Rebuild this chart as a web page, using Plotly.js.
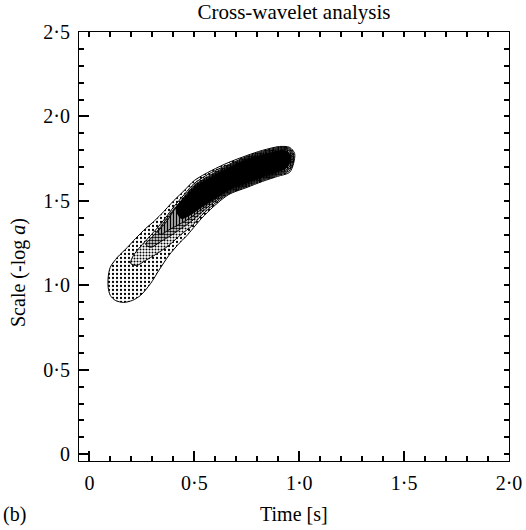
<!DOCTYPE html>
<html>
<head>
<meta charset="utf-8">
<script src="https://cdn.plot.ly/plotly-3.0.1.min.js"></script>
<style>html,body{margin:0;padding:0;background:#fff;}</style>
</head>
<body>
<div id="chart" style="width:526px;height:530px;"></div>
<script>
// Contour outlines (time [s], scale -log a), outermost first
const c1x = [0.089,0.089,0.099,0.133,0.181,0.220,0.268,0.302,0.341,0.403,0.452,0.500,0.582,0.664,0.751,0.824,0.906,0.954,0.978,0.973,0.954,0.896,0.824,0.751,0.664,0.592,0.534,0.461,0.428,0.379,0.331,0.292,0.244,0.205,0.162,0.123,0.099,0.089];
const c1y = [0.988,1.047,1.107,1.166,1.225,1.278,1.337,1.373,1.420,1.503,1.562,1.621,1.680,1.728,1.769,1.799,1.822,1.817,1.781,1.722,1.669,1.645,1.615,1.580,1.538,1.467,1.396,1.290,1.249,1.178,1.089,1.012,0.941,0.911,0.899,0.911,0.941,0.988];

const c2x = [0.196,0.210,0.244,0.283,0.321,0.360,0.403,0.452,0.500,0.582,0.664,0.751,0.824,0.906,0.954,0.973,0.969,0.949,0.896,0.824,0.751,0.664,0.592,0.534,0.486,0.437,0.379,0.316,0.268,0.225,0.196];
const c2y = [1.130,1.178,1.231,1.284,1.337,1.396,1.467,1.538,1.604,1.669,1.716,1.763,1.793,1.817,1.811,1.775,1.716,1.675,1.651,1.621,1.586,1.544,1.479,1.414,1.349,1.302,1.237,1.183,1.148,1.118,1.130];

const c3x = [0.268,0.302,0.341,0.379,0.418,0.461,0.500,0.582,0.664,0.751,0.824,0.906,0.954,0.969,0.964,0.944,0.896,0.824,0.751,0.664,0.592,0.534,0.486,0.437,0.389,0.341,0.292,0.268];
const c3y = [1.243,1.290,1.349,1.414,1.473,1.538,1.592,1.657,1.710,1.757,1.787,1.811,1.805,1.769,1.710,1.680,1.657,1.627,1.592,1.550,1.491,1.432,1.379,1.337,1.296,1.260,1.225,1.243];

const c4x = [0.326,0.365,0.413,0.461,0.500,0.582,0.664,0.751,0.824,0.906,0.949,0.964,0.959,0.940,0.896,0.824,0.751,0.664,0.592,0.534,0.476,0.428,0.374,0.341,0.326];
const c4y = [1.314,1.373,1.462,1.533,1.586,1.651,1.704,1.751,1.781,1.805,1.799,1.763,1.716,1.686,1.663,1.633,1.598,1.556,1.503,1.450,1.396,1.361,1.325,1.302,1.314];

const c5x = [0.413,0.461,0.500,0.582,0.664,0.751,0.824,0.906,0.944,0.959,0.954,0.935,0.896,0.824,0.751,0.664,0.592,0.534,0.476,0.437,0.413];
const c5y = [1.456,1.527,1.580,1.645,1.698,1.746,1.775,1.799,1.793,1.763,1.722,1.692,1.669,1.639,1.604,1.562,1.509,1.462,1.414,1.396,1.456];

const xTickVals = [0, 0.5, 1.0, 1.5, 2.0];
const xTickText = ['0', '0·5', '1·0', '1·5', '2·0'];
const yTickVals = [0, 0.5, 1.0, 1.5, 2.0, 2.5];
const yTickText = ['0', '0·5', '1·0', '1·5', '2·0', '2·5'];

const serif = 'Liberation Serif, Times New Roman, serif';

function aliases(vals, texts) {
  const m = {};
  vals.forEach((v, i) => { m[v.toFixed(1).replace('.', '·')] = texts[i]; });
  return m;
}

function poly(x, y, pattern, fillcolor, xa, ya) {
  const t = {
    type: 'scatter', mode: 'lines', x: x, y: y, fill: 'toself',
    line: {color: '#000', width: 1, shape: 'spline', smoothing: 0.8},
    hoverinfo: 'skip', showlegend: false
  };
  if (xa) { t.xaxis = xa; t.yaxis = ya; }
  if (pattern) { t.fillpattern = pattern; t.fillcolor = '#fff'; }
  else { t.fillcolor = fillcolor; }
  return t;
}

const traces = [
  poly(c1x, c1y, {shape: '.', fgcolor: '#000', bgcolor: '#fff', size: 4, solidity: 0.25}),
  poly(c2x, c2y, {shape: '.', fgcolor: '#000', bgcolor: '#fff', size: 3, solidity: 0.35}),
  poly(c3x, c3y, {shape: '.', fgcolor: '#000', bgcolor: '#fff', size: 3, solidity: 0.55}),
  poly(c4x, c4y, {shape: '|', fgcolor: '#000', bgcolor: '#fff', size: 3, solidity: 0.6}),
  poly(c5x, c5y, null, '#000', 'x2', 'y2')
];

const tickFont = {family: serif, size: 20, color: '#000'};

const layout = {
  width: 526, height: 530,
  margin: {l: 79, r: 17, t: 32, b: 69},
  paper_bgcolor: '#fff', plot_bgcolor: '#fff',
  separators: '·,',
  showlegend: false,
  font: {family: serif, color: '#000'},
  title: {text: 'Cross-wavelet analysis', font: {family: serif, size: 21, color: '#000'},
          x: 294/526, xref: 'container', xanchor: 'center', y: 1 - 12/530, yref: 'container', yanchor: 'middle'},
  xaxis: {
    range: [-0.05, 2.0], showgrid: false, zeroline: false,
    showline: true, linecolor: '#000', linewidth: 1, mirror: true,
    tickmode: 'linear', tick0: 0, dtick: 0.5, tickformat: '.1f', labelalias: aliases(xTickVals, xTickText),
    ticks: 'inside', ticklen: 10, tickwidth: 2, tickcolor: '#000',
    minor: {tick0: 0, dtick: 0.1, ticks: 'inside', ticklen: 5, tickwidth: 2, tickcolor: '#000', showgrid: false},
    tickfont: tickFont, ticklabelstandoff: 4
  },
  yaxis: {
    range: [-0.04, 2.5], showgrid: false, zeroline: false,
    showline: true, linecolor: '#000', linewidth: 1, mirror: true,
    tickmode: 'linear', tick0: 0, dtick: 0.5, tickformat: '.1f', labelalias: aliases(yTickVals, yTickText),
    ticks: 'inside', ticklen: 10, tickwidth: 2, tickcolor: '#000',
    minor: {tick0: 0, dtick: 0.1, ticks: 'inside', ticklen: 5, tickwidth: 2, tickcolor: '#000', showgrid: false},
    tickfont: tickFont, ticklabelstandoff: 4
  },
  xaxis2: {
    overlaying: 'x', side: 'top', anchor: 'y2', range: [-0.05, 2.0],
    showgrid: false, zeroline: false, showticklabels: false,
    dtick: 0.1, ticks: 'inside', ticklen: 5, tickwidth: 2, tickcolor: '#000'
  },
  yaxis2: {
    overlaying: 'y', side: 'right', anchor: 'x2', range: [-0.04, 2.5],
    showgrid: false, zeroline: false, showticklabels: false,
    dtick: 0.1, ticks: 'inside', ticklen: 5, tickwidth: 2, tickcolor: '#000'
  },
  annotations: [
    {text: 'Time [s]', xref: 'paper', yref: 'paper', x: 0.5, y: -(514-461)/429, xanchor: 'center', yanchor: 'middle',
     showarrow: false, font: {family: serif, size: 20, color: '#000'}},
    {text: '(b)', xref: 'paper', yref: 'paper', x: -78/430, y: -(514-461)/429, xanchor: 'left', yanchor: 'middle',
     showarrow: false, font: {family: serif, size: 20, color: '#000'}},
    {text: 'Scale (-log <i>a</i>)', xref: 'paper', yref: 'paper', x: -61/430, y: (461-273)/429,
     xanchor: 'center', yanchor: 'middle', textangle: -90,
     showarrow: false, font: {family: serif, size: 20, color: '#000'}}
  ]
};

Plotly.newPlot('chart', traces, layout, {displayModeBar: false, staticPlot: true});
</script>
</body>
</html>
